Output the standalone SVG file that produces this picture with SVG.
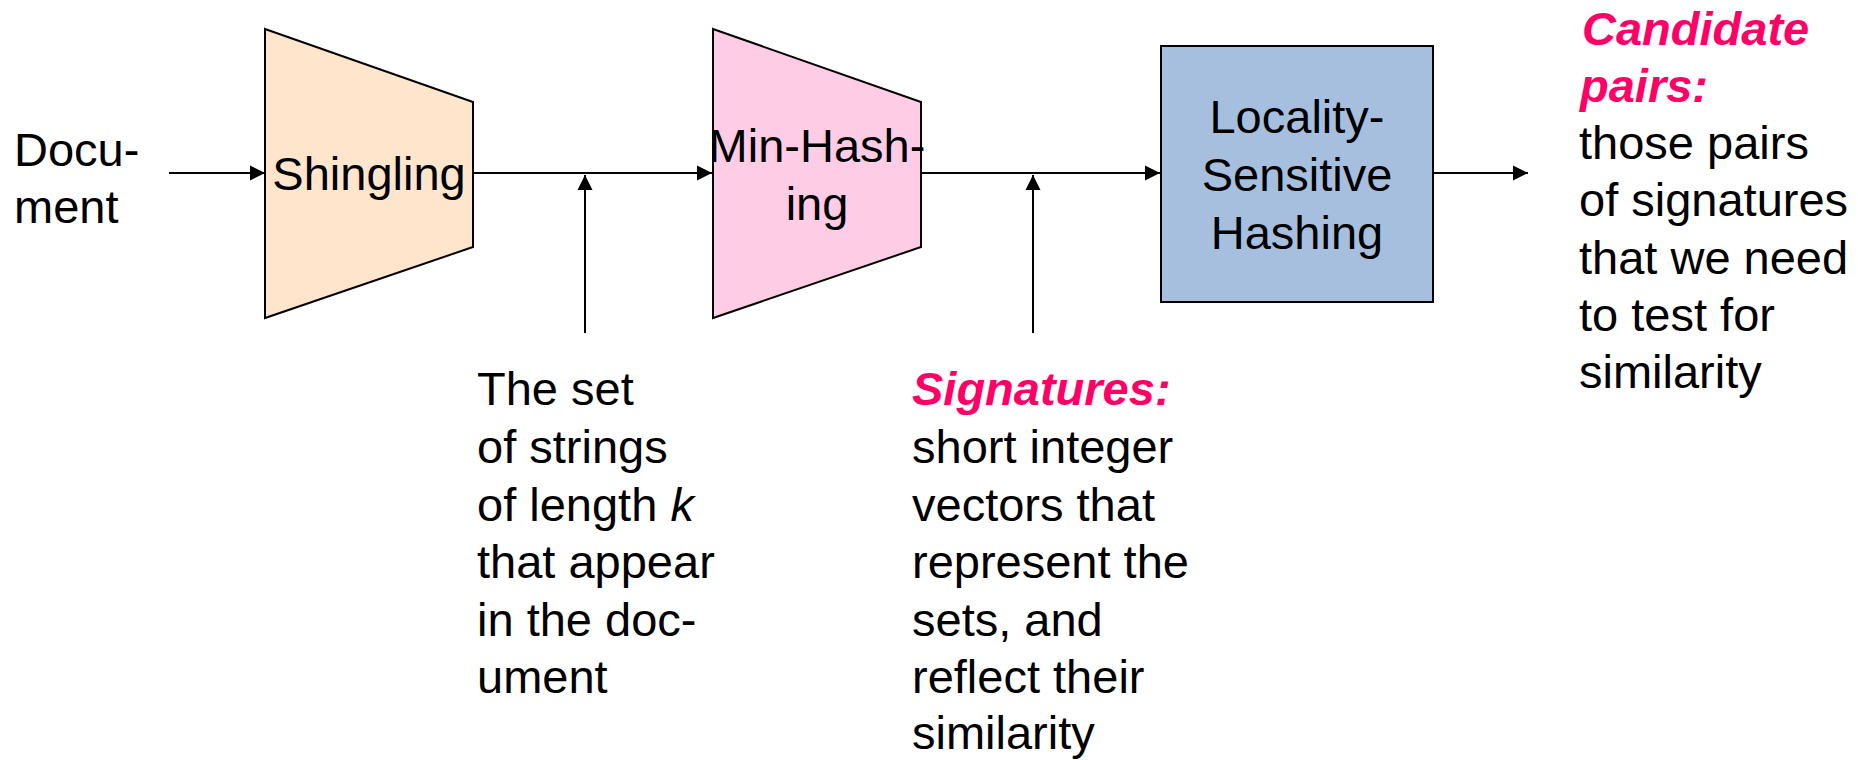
<svg xmlns="http://www.w3.org/2000/svg" width="1858" height="760" viewBox="0 0 1858 760">
<style>
text { font-family: "Liberation Sans", Arial, sans-serif; font-size: 47px; fill: #000; }
.c { text-anchor: middle; }
.hl { fill: #FF0066; font-weight: bold; font-style: italic; }
.conn { stroke: #000; stroke-width: 2; fill: none; marker-end: url(#ah); }
.node { stroke: #000; stroke-width: 2; }
</style>
<defs>
<marker id="ah" markerUnits="userSpaceOnUse" markerWidth="16" markerHeight="16" viewBox="0 0 16 16" refX="15" refY="8" orient="auto">
<path d="M0,0.5 L15,8 L0,15.5 Z" fill="#000"/>
</marker>
</defs>
<rect width="1858" height="760" fill="#fff"/>
<g id="connectors">
<line class="conn" x1="169" y1="173" x2="265" y2="173"/>
<line class="conn" x1="473" y1="173" x2="712" y2="173"/>
<line class="conn" x1="921" y1="173" x2="1160" y2="173"/>
<line class="conn" x1="1433" y1="173" x2="1528" y2="173"/>
<line class="conn" x1="585" y1="333" x2="585" y2="175"/>
<line class="conn" x1="1033" y1="333" x2="1033" y2="175"/>
</g>
<g id="document">
<text x="14" y="166">Docu-</text>
<text x="14" y="223">ment</text>
</g>
<g id="shingling">
<polygon class="node" points="265,29 473,102 473,247 265,318" fill="#FFE5CC"/>
<text class="c" x="369" y="190">Shingling</text>
</g>
<g id="minhashing">
<polygon class="node" points="713,29 921,102 921,247 713,318" fill="#FFCCE5"/>
<text class="c" x="817" y="162">Min-Hash-</text>
<text class="c" x="817" y="220">ing</text>
</g>
<g id="lsh">
<rect class="node" x="1161" y="46" width="272" height="256" fill="#A6BFDE"/>
<text class="c" x="1297" y="133">Locality-</text>
<text class="c" x="1297" y="191">Sensitive</text>
<text class="c" x="1297" y="249">Hashing</text>
</g>
<g id="shingles-label">
<text x="477" y="405">The set</text>
<text x="477" y="463">of strings</text>
<text x="477" y="521">of length <tspan font-style="italic">k</tspan></text>
<text x="477" y="578">that appear</text>
<text x="477" y="636">in the doc-</text>
<text x="477" y="693">ument</text>
</g>
<g id="signatures-label">
<text class="hl" x="912" y="405">Signatures:</text>
<text x="912" y="463">short integer</text>
<text x="912" y="521">vectors that</text>
<text x="912" y="578">represent the</text>
<text x="912" y="636">sets, and</text>
<text x="912" y="693">reflect their</text>
<text x="912" y="749">similarity</text>
</g>
<g id="candidates-label">
<text class="hl" x="1582" y="45">Candidate</text>
<text class="hl" x="1580" y="102">pairs:</text>
<text x="1579" y="159">those pairs</text>
<text x="1579" y="216">of signatures</text>
<text x="1579" y="274">that we need</text>
<text x="1579" y="331">to test for</text>
<text x="1579" y="388">similarity</text>
</g>
</svg>
